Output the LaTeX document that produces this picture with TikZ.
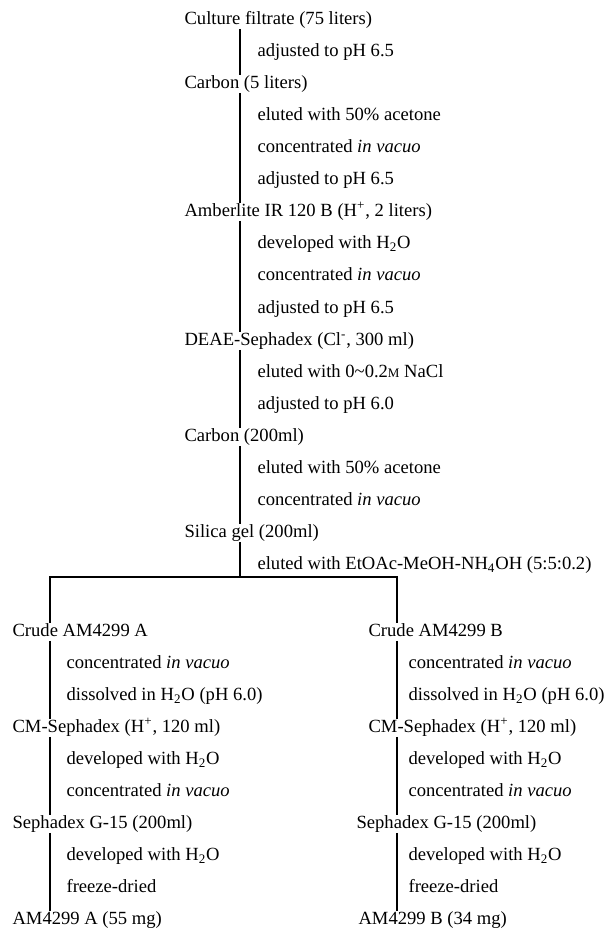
\documentclass[tikz,border=0pt]{standalone}
\usepackage{fontspec}
\setmainfont{Liberation Serif}
\newcommand{\wat}{H\textsubscript{2}O}
\newcommand{\iv}{\textit{in vacuo}}

\begin{document}
\begin{tikzpicture}[x=0.5376pt,y=-0.5376pt,line width=0.6pt,
  lbl/.style={inner sep=0mm,anchor=west,text height=7pt,text depth=2pt}]
\useasboundingbox (0,0) rectangle (608,929);
\coordinate (mid) at (240,0);
\coordinate (lft) at (50,0);
\coordinate (rgt) at (397,0);
\coordinate (split) at (240,577);
% main column
\foreach \x/\y/\n/\t in {184/20/cf/{Culture filtrate (75 liters)}, 184/84/cfive/{Carbon (5 liters)},
    184/212/amb/{Amberlite IR 120 B (H\textsuperscript{+}, 2 liters)}, 184/341/deae/{DEAE-Sephadex (Cl\textsuperscript{-}, 300 ml)},
    184/437/ctwo/{Carbon (200ml)}, 184/533/sil/{Silica gel (200ml)}}
  \node[lbl] (\n) at (\x,\y) {\t};
\foreach \x/\y/\n/\t in {257/52/m1/{adjusted to pH 6.5}, 257/116/m2/{eluted with 50\% acetone}, 257/148/m3/{concentrated \iv},
    257/180/m4/{adjusted to pH 6.5}, 257/244/m5/{developed with \wat}, 257/276/m6/{concentrated \iv},
    257/309/m7/{adjusted to pH 6.5}, 257/373/m8/{eluted with 0\textasciitilde0.2{\fontsize{7}{7}\selectfont M} NaCl},
    257/405/m9/{adjusted to pH 6.0}, 257/469/m10/{eluted with 50\% acetone}, 257/501/m11/{concentrated \iv},
    257/565/m12/{eluted with EtOAc-MeOH-NH\textsubscript{4}OH (5:5:0.2)}}
  \node[lbl] (\n) at (\x,\y) {\t};
% branch A
\foreach \x/\y/\n/\t in {12/632/ca/{Crude AM4299 A}, 12/728/cma/{CM-Sephadex (H\textsuperscript{+}, 120 ml)},
    12/824/sga/{Sephadex G-15 (200ml)}, 12/920/ama/{AM4299 A (55 mg)}}
  \node[lbl] (\n) at (\x,\y) {\t};
\foreach \x/\y/\n/\t in {66/664/a1/{concentrated \iv}, 66/696/a2/{dissolved in \wat{} (pH 6.0)},
    66/760/a3/{developed with \wat}, 66/792/a4/{concentrated \iv}, 66/856/a5/{developed with \wat},
    66/888/a6/{freeze-dried}}
  \node[lbl] (\n) at (\x,\y) {\t};
% branch B
\foreach \x/\y/\n/\t in {368/632/cb/{Crude AM4299 B}, 368/728/cmb/{CM-Sephadex (H\textsuperscript{+}, 120 ml)},
    356/824/sgb/{Sephadex G-15 (200ml)}, 358/920/amb2/{AM4299 B (34 mg)}}
  \node[lbl] (\n) at (\x,\y) {\t};
\foreach \x/\y/\n/\t in {408/664/b1/{concentrated \iv}, 408/696/b2/{dissolved in \wat{} (pH 6.0)},
    408/760/b3/{developed with \wat}, 408/792/b4/{concentrated \iv}, 408/856/b5/{developed with \wat},
    408/888/b6/{freeze-dried}}
  \node[lbl] (\n) at (\x,\y) {\t};
% lines
\foreach \s/\t in {cf/cfive, cfive/amb, amb/deae, deae/ctwo, ctwo/sil}
  \draw (\s.south -| mid) -- (\t.north -| mid);
\draw (sil.south -| mid) -- (split);
\draw (ca.north -| lft) |- (split) -| (cb.north -| rgt);
\foreach \s/\t in {ca/cma, cma/sga, sga/ama}
  \draw (\s.south -| lft) -- (\t.north -| lft);
\foreach \s/\t in {cb/cmb, cmb/sgb, sgb/amb2}
  \draw (\s.south -| rgt) -- (\t.north -| rgt);

\end{tikzpicture}
\end{document}
